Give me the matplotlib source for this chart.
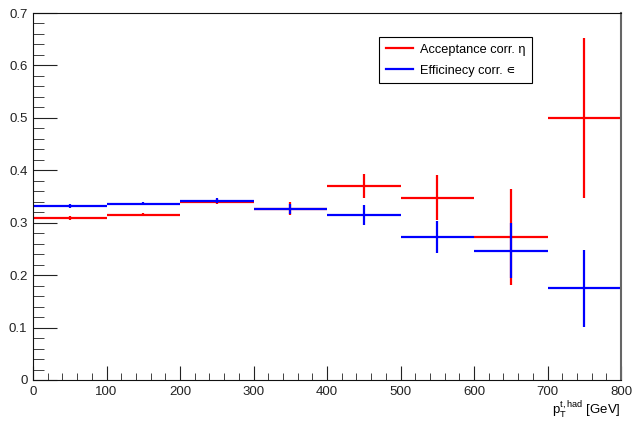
import matplotlib
matplotlib.use('Agg')
import matplotlib.pyplot as plt
from matplotlib.ticker import MultipleLocator
from matplotlib.lines import Line2D

plt.rcParams['font.family'] = ['Liberation Sans', 'DejaVu Sans']
plt.rcParams['mathtext.fontset'] = 'custom'
plt.rcParams['mathtext.rm'] = 'Liberation Sans'
plt.rcParams['mathtext.it'] = 'Liberation Sans'

# bin centres (GeV) and half widths
bin_centers = [50, 150, 250, 350, 450, 550, 650, 750]
bin_half = [50, 50, 50, 50, 50, 50, 50, 50]

# acceptance correction (red)
acc_vals = [0.309, 0.315, 0.340, 0.327, 0.370, 0.348, 0.273, 0.500]
acc_errs = [0.003, 0.003, 0.005, 0.012, 0.023, 0.043, 0.092, 0.152]

# efficiency correction (blue)
eff_vals = [0.332, 0.336, 0.342, 0.326, 0.315, 0.273, 0.247, 0.175]
eff_errs = [0.003, 0.003, 0.005, 0.010, 0.019, 0.031, 0.053, 0.073]

fig = plt.figure(figsize=(6.35, 4.22), dpi=100)
ax = fig.add_axes([33 / 635, 1 - 380 / 422, 588 / 635, 367 / 422])

ax.errorbar(bin_centers, acc_vals, xerr=bin_half, yerr=acc_errs, fmt='none',
            ecolor='#ff0000', elinewidth=1.6, capsize=0)
ax.errorbar(bin_centers, eff_vals, xerr=bin_half, yerr=eff_errs, fmt='none',
            ecolor='#0000ff', elinewidth=1.6, capsize=0)

ax.set_xlim(0, 800)
ax.set_ylim(0, 0.7)
ax.xaxis.set_major_locator(MultipleLocator(100))
ax.xaxis.set_minor_locator(MultipleLocator(20))
ax.set_yticks([0, 0.1, 0.2, 0.3, 0.4, 0.5, 0.6, 0.7])
ax.set_yticklabels(['0', '0.1', '0.2', '0.3', '0.4', '0.5', '0.6', '0.7'])
ax.yaxis.set_minor_locator(MultipleLocator(0.02))

ax.tick_params(axis='both', which='both', direction='in', top=False, right=False,
               labelsize=9.5, colors='#222222')
ax.tick_params(axis='x', which='major', length=10, pad=4)
ax.tick_params(axis='x', which='minor', length=5)
ax.tick_params(axis='y', which='major', length=17, pad=4)
ax.tick_params(axis='y', which='minor', length=8)
for side in ['left', 'bottom', 'top']:
    ax.spines[side].set_color('#111111')
ax.spines['right'].set_color('#666666')
ax.spines['right'].set_linewidth(1.5)

ax.set_xlabel(r'p$_{\mathrm{T}}^{\mathrm{t,had}}$ [GeV]', fontsize=9.5, loc='right', labelpad=2)

handles = [Line2D([], [], color='#ff0000', lw=1.6),
           Line2D([], [], color='#0000ff', lw=1.6)]
labels = ['Acceptance corr. \u03b7', 'Efficinecy corr. \u220a']
leg = ax.legend(handles, labels, loc='upper left', bbox_to_anchor=(340 / 588, 1 - 18 / 367),
                fontsize=9.2, fancybox=False, framealpha=1, edgecolor='black',
                borderpad=0.5, handlelength=2.1, handletextpad=0.6, labelspacing=0.7)
leg.get_frame().set_linewidth(0.8)

fig.savefig('out.png', dpi=100)
